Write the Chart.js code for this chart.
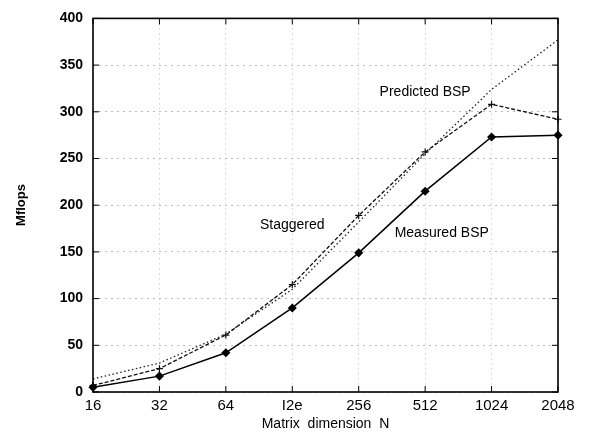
<!DOCTYPE html>
<html>
<head>
<meta charset="utf-8">
<script src="https://cdn.jsdelivr.net/npm/chart.js@4.4.1/dist/chart.umd.min.js"></script>
<style>
    html, body { margin: 0; padding: 0; background: #fff; }
    #wrap { width: 613px; height: 433px; }
</style>
</head>
<body>
<div id="wrap"><canvas id="chartCanvas" width="613" height="433"></canvas></div>
<script>
// matrix sizes along the x axis
const sizes = ['16', '32', '64', 'I2e', '256', '512', '1024', '2048'];

const measuredBsp = [5, 17, 42, 90, 149, 215, 273, 275];
const staggered = [7, 25, 61, 115, 189, 257, 308, 292];
const predictedBsp = [14, 31, 62, 110, 182, 255, 324, 377];

const yTicks = [0, 50, 100, 150, 200, 250, 300, 350, 400];

// curve labels: [text, category index, value]
const curveLabels = [
    ['Predicted BSP', 5.0, 321],
    ['Staggered', 3.0, 179],
    ['Measured BSP', 5.25, 170]
];

const FONT = "'Liberation Sans', Arial, sans-serif";

const framePlugin = {
    id: 'frame',
    afterDatasetsDraw(chart) {
        const ctx = chart.ctx;
        const a = chart.chartArea;
        const x = chart.scales.x;
        const y = chart.scales.y;
        ctx.save();

        // tick marks pointing inwards on all four sides
        ctx.strokeStyle = '#000';
        ctx.lineWidth = 1;
        ctx.beginPath();
        sizes.forEach((s, i) => {
            const px = x.getPixelForValue(i);
            ctx.moveTo(px, a.bottom); ctx.lineTo(px, a.bottom - 6);
            ctx.moveTo(px, a.top); ctx.lineTo(px, a.top + 6);
        });
        yTicks.forEach(v => {
            const py = y.getPixelForValue(v);
            ctx.moveTo(a.left, py); ctx.lineTo(a.left + 6, py);
            ctx.moveTo(a.right, py); ctx.lineTo(a.right - 6, py);
        });
        ctx.stroke();

        ctx.lineWidth = 1.6;
        ctx.strokeRect(a.left, a.top, a.right - a.left, a.bottom - a.top);

        ctx.fillStyle = '#000';
        ctx.font = '14px ' + FONT;
        ctx.textAlign = 'center';
        ctx.textBaseline = 'middle';
        curveLabels.forEach(([text, i, v]) => {
            ctx.fillText(text, x.getPixelForValue(i), y.getPixelForValue(v));
        });

        // y axis title
        ctx.font = 'bold 13px ' + FONT;
        ctx.translate(21, 205);
        ctx.rotate(-Math.PI / 2);
        ctx.fillText('Mflops', 0, 0);
        ctx.restore();
    }
};

const ctx = document.getElementById('chartCanvas').getContext('2d');
new Chart(ctx, {
    type: 'line',
    data: {
        labels: sizes,
        datasets: [
            {
                label: 'Measured BSP',
                data: measuredBsp,
                borderColor: '#000',
                backgroundColor: '#000',
                borderWidth: 1.5,
                pointStyle: 'rectRot',
                pointRadius: 3.5,
                tension: 0
            },
            {
                label: 'Staggered',
                data: staggered,
                borderColor: '#111',
                backgroundColor: '#111',
                borderWidth: 1.3,
                borderDash: [4, 2],
                pointStyle: 'cross',
                pointRadius: 3.5,
                pointBorderWidth: 1.2,
                tension: 0
            },
            {
                label: 'Predicted BSP',
                data: predictedBsp,
                borderColor: '#222',
                borderWidth: 1.3,
                borderDash: [1.5, 2.5],
                pointRadius: 0,
                tension: 0
            }
        ]
    },
    options: {
        responsive: false,
        animation: false,
        layout: { padding: { top: 13, right: 55, left: 0, bottom: 0 } },
        plugins: {
            legend: { display: false },
            tooltip: { enabled: false }
        },
        scales: {
            x: {
                offset: false,
                grid: {
                    color: '#aaa',
                    lineWidth: 0.8,
                    drawTicks: false
                },
                border: { display: false, dash: [1, 4] },
                ticks: {
                    color: '#000',
                    font: { family: FONT, size: 15 },
                    padding: 5,
                    maxRotation: 0,
                    autoSkip: false
                },
                title: {
                    display: true,
                    text: 'Matrix  dimension  N',
                    color: '#000',
                    font: { family: FONT, size: 14 },
                    padding: { top: -3, bottom: 0 }
                },
                afterFit(scale) { scale.height = 41; }
            },
            y: {
                min: 0,
                max: 400,
                afterBuildTicks(scale) {
                    scale.ticks = yTicks.map(v => ({ value: v }));
                },
                grid: {
                    color: '#aaa',
                    lineWidth: 0.8,
                    drawTicks: false
                },
                border: { display: false, dash: [2, 4] },
                ticks: {
                    color: '#000',
                    font: { family: FONT, size: 14, weight: 'bold' },
                    padding: 10
                },
                afterFit(scale) { scale.width = 93; }
            }
        }
    },
    plugins: [framePlugin]
});
</script>
</body>
</html>
